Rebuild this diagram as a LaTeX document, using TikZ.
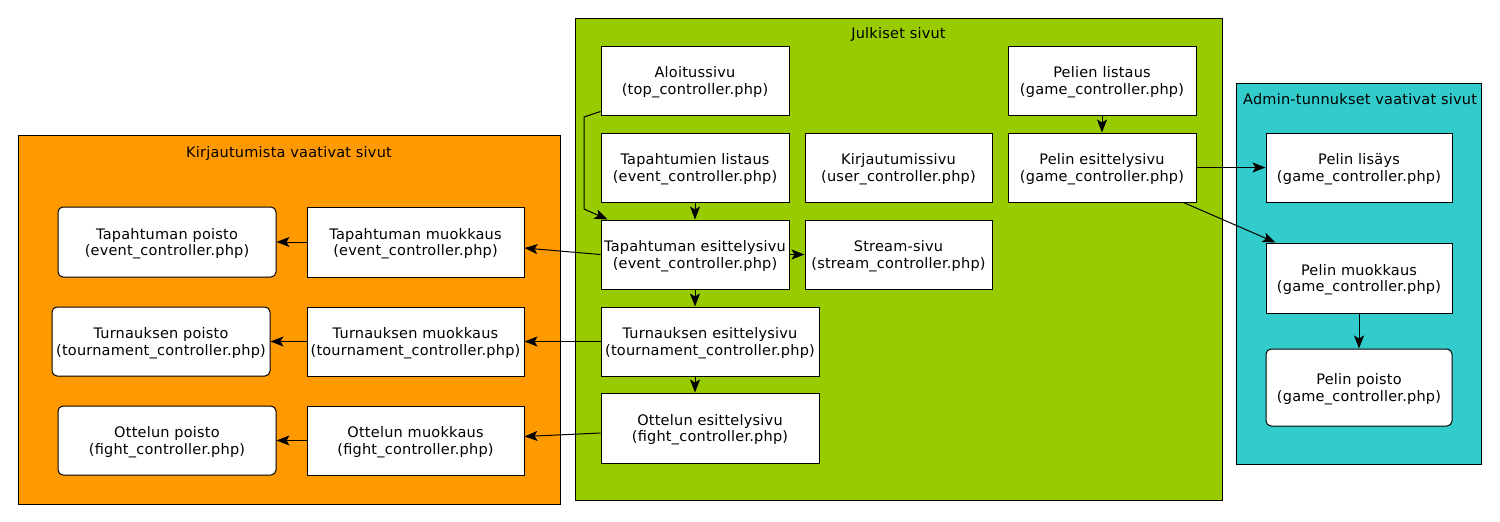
\documentclass[tikz,border=0pt]{standalone}
\usepackage{fontspec}
\setmainfont{DejaVu Sans}[LetterSpace=1.5]
\usetikzlibrary{arrows.meta,calc}
\definecolor{corange}{HTML}{FF9900}
\definecolor{cgreen}{HTML}{99CC00}
\definecolor{ccyan}{HTML}{33CCCC}
\begin{document}
\begin{tikzpicture}[x=1pt,y=-1pt,
 page/.style={draw=black, fill=white, line width=1pt, inner sep=0pt},
 del/.style={page, rounded corners=5pt},
 ptext/.style={align=center, inner sep=0pt, yshift=-1.5pt, font=\fontsize{14.5}{16.5}\selectfont},
 cluster/.style={draw=black, line width=1pt},
 clabel/.style={font=\fontsize{14.5}{17}\selectfont, inner sep=0pt},
 edge/.style={draw=black, line width=1pt, -{Stealth[length=13pt,width=10pt,inset=3pt]}}
]
\useasboundingbox (0,0) rectangle (1500,522);
% clusters
\draw[cluster, fill=corange] (18,135) rectangle (560,504);
\node[clabel] (kl) at (289,153) {Kirjautumista vaativat sivut};
\draw[cluster, fill=cgreen] (575,18) rectangle (1222,500);
\node[clabel] (jl) at (898.5,34.5) {Julkiset sivut};
\draw[cluster, fill=ccyan] (1236,83) rectangle (1481,464);
\node[clabel] (al) at (1360,99.5) {Admin-tunnukset vaativat sivut};
% public pages
\node[page, minimum width=188pt, minimum height=69pt, label={[ptext]center:Aloitussivu\\(top\_controller.php)}] (alo) at (695,80.5) {};
\node[page, minimum width=188pt, minimum height=69pt, label={[ptext]center:Tapahtumien listaus\\(event\_controller.php)}] (tli) at (695,167.5) {};
\node[page, minimum width=187pt, minimum height=69pt, label={[ptext]center:Kirjautumissivu\\(user\_controller.php)}] (kir) at (898.5,167.5) {};
\node[page, minimum width=188pt, minimum height=69pt, label={[ptext]center:\makebox[0pt]{Tapahtuman esittelysivu}\\(event\_controller.php)}] (tes) at (695,254.5) {};
\node[page, minimum width=187pt, minimum height=69pt, label={[ptext]center:Stream-sivu\\(stream\_controller.php)}] (str) at (898.5,254.5) {};
\node[page, minimum width=218pt, minimum height=69pt, label={[ptext]center:Turnauksen esittelysivu\\\makebox[0pt]{(tournament\_controller.php)}}] (tue) at (710,341.5) {};
\node[page, minimum width=218pt, minimum height=70pt, label={[ptext]center:Ottelun esittelysivu\\(fight\_controller.php)}] (oes) at (710,428) {};
\node[page, minimum width=188pt, minimum height=69pt, label={[ptext]center:Pelien listaus\\(game\_controller.php)}] (pel) at (1102,80.5) {};
\node[page, minimum width=188pt, minimum height=69pt, label={[ptext]center:Pelin esittelysivu\\(game\_controller.php)}] (pes) at (1102,167.5) {};
% login pages
\node[page, minimum width=217pt, minimum height=70pt, label={[ptext]center:Tapahtuman muokkaus\\(event\_controller.php)}] (tmu) at (415.5,242) {};
\node[del, minimum width=218pt, minimum height=70pt, label={[ptext]center:Tapahtuman poisto\\(event\_controller.php)}] (tpo) at (167,242) {};
\node[page, minimum width=217pt, minimum height=69pt, label={[ptext]center:Turnauksen muokkaus\\\makebox[0pt]{(tournament\_controller.php)}}] (tum) at (415.5,341.5) {};
\node[del, minimum width=218pt, minimum height=69pt, label={[ptext]center:Turnauksen poisto\\\makebox[0pt]{(tournament\_controller.php)}}] (upo) at (161,341.5) {};
\node[page, minimum width=217pt, minimum height=69pt, label={[ptext]center:Ottelun muokkaus\\(fight\_controller.php)}] (omu) at (415.5,440.5) {};
\node[del, minimum width=218pt, minimum height=69pt, label={[ptext]center:Ottelun poisto\\(fight\_controller.php)}] (opo) at (167,440.5) {};
% admin pages
\node[page, minimum width=186pt, minimum height=69pt, label={[ptext]center:Pelin lisäys\\(game\_controller.php)}] (pli) at (1359,167.5) {};
\node[page, minimum width=186pt, minimum height=70pt, label={[ptext]center:Pelin muokkaus\\(game\_controller.php)}] (pmu) at (1359,278) {};
\node[del, minimum width=186pt, minimum height=77pt, label={[ptext]center:Pelin poisto\\(game\_controller.php)}] (ppo) at (1359,387.5) {};
% edges
\coordinate (b1) at (584,117);
\coordinate (b2) at (584,209);
\draw[edge] ($(alo.south west)+(0,-4)$) -- (b1) -- (b2) -- ($(tes.north west)+(7,0)$);
\draw[edge] (tli) -- (tes);
\draw[edge] (tes) -- (str);
\draw[edge] (tes.west) -- ($(tmu.east)+(0,6)$);
\draw[edge] (tes.south) -- (tes.south |- tue.north);
\draw[edge] (tue.south -| tes.south) -- (oes.north -| tes.south);
\draw[edge] (tue.west) -- (tum.east);
\draw[edge] ($(oes.west)+(0,5)$) -- ($(omu.east)+(0,-4)$);
\draw[edge] (tmu) -- (tpo);
\draw[edge] (tum) -- (upo);
\draw[edge] (omu) -- (opo);
\draw[edge] (pel) -- (pes);
\draw[edge] (pes) -- (pli);
\draw[edge] ($(pes.south east)+(-13,0)$) -- ($(pmu.north west)+(10,0)$);
\draw[edge] (pmu) -- (ppo);
\end{tikzpicture}
\end{document}
